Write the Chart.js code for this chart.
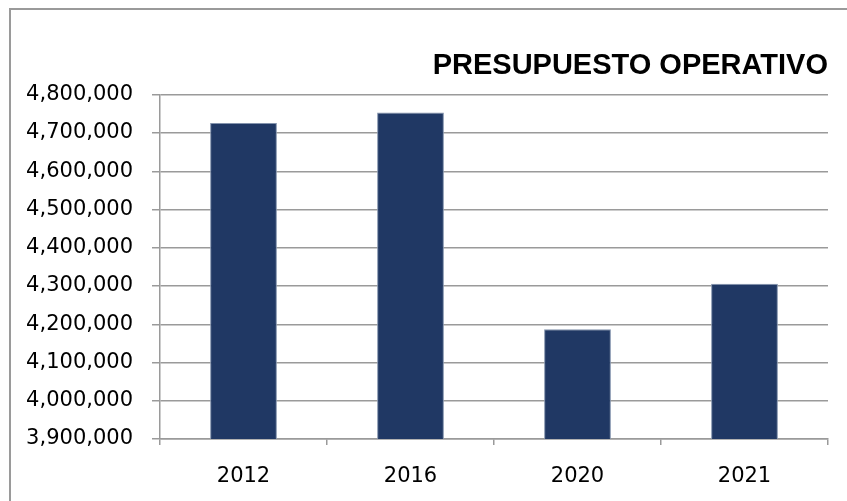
<!DOCTYPE html>
<html lang="es">
<head>
<meta charset="UTF-8">
<title>Presupuesto operativo</title>
<script src="https://cdn.jsdelivr.net/npm/chart.js"></script>
<style>
    body { margin: 0; background: #fff; }
    .caja { position: relative; width: 847px; height: 501px; }
    .marco {
        position: absolute; left: 9px; top: 8px; right: 0; bottom: 0;
        border-top: 2px solid #9a9a9a; border-left: 2px solid #9a9a9a;
        pointer-events: none;
    }
</style>
</head>
<body>
<div class="caja">
    <canvas id="grafico" width="847" height="501"></canvas>
    <div class="marco"></div>
</div>
<script>
const anios = ['2012', '2016', '2020', '2021'];
const presupuesto = [4726000, 4754000, 4187000, 4306000];
const ejeMin = 3900000;
const ejeMax = 4800000;
const paso = 100000;

const gris = '#9a9a9a';
const fuenteEje = { family: 'DejaVu Sans', size: 21 };

new Chart(document.getElementById('grafico'), {
    type: 'bar',
    data: {
        labels: anios,
        datasets: [{
            label: 'Presupuesto operativo',
            data: presupuesto,
            backgroundColor: '#203864',
            borderColor: '#8393ad',
            borderWidth: 1,
            barPercentage: 0.4,
            categoryPercentage: 1
        }]
    },
    options: {
        responsive: false,
        animation: false,
        layout: { padding: { left: 0, right: 19, top: 0, bottom: 12 } },
        plugins: {
            legend: { display: false },
            tooltip: { enabled: false },
            title: {
                display: true,
                text: 'PRESUPUESTO OPERATIVO',
                align: 'end',
                color: '#000',
                font: { family: 'Liberation Sans', size: 29, weight: 'bold' },
                padding: { top: 49, bottom: 11 }
            }
        },
        scales: {
            x: {
                afterFit: function (scale) { scale.height = 50; },
                grid: { display: true, drawOnChartArea: false, color: gris, lineWidth: 1.5, tickLength: 6 },
                border: { display: true, color: gris, width: 1.5 },
                ticks: { color: '#000', font: fuenteEje, padding: 19 }
            },
            y: {
                min: ejeMin,
                max: ejeMax,
                afterFit: function (scale) { scale.width = 160; },
                grid: { color: gris, lineWidth: 1.5, tickLength: 8 },
                border: { display: true, color: gris, width: 1.5 },
                ticks: {
                    stepSize: paso,
                    color: '#000',
                    font: fuenteEje,
                    padding: 19,
                    callback: v => v.toLocaleString('en-US')
                }
            }
        }
    }
});
</script>
</body>
</html>
